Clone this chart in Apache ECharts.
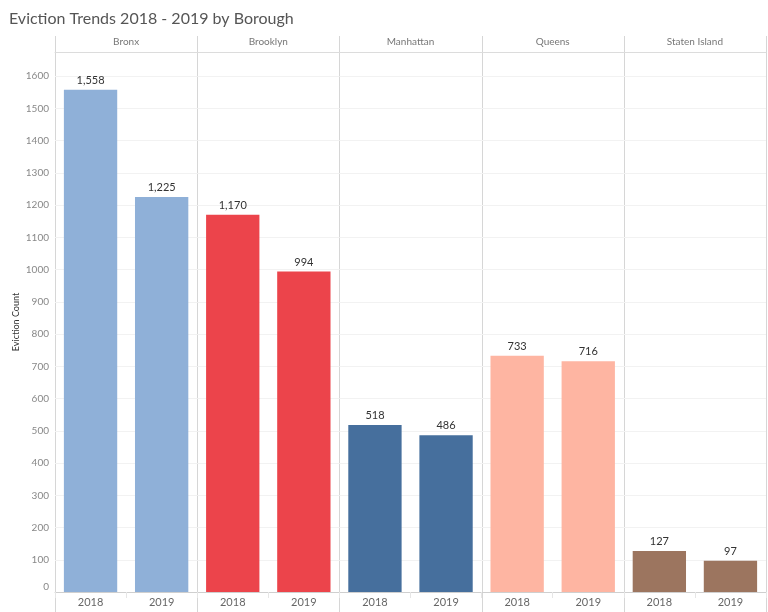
<!DOCTYPE html>
<html>
<head>
<meta charset="utf-8">
<script src="https://cdn.jsdelivr.net/npm/echarts@6/dist/echarts.min.js"></script>
<style>
  html, body { margin: 0; padding: 0; background: #fff; }
  #chart { width: 768px; height: 612px; }
</style>
</head>
<body>
<div id="chart"></div>
<script>
const boroughs = ['Bronx', 'Brooklyn', 'Manhattan', 'Queens', 'Staten Island']
const years = ['2018', '2019']
const evictions2018 = [1558, 1170, 518, 733, 127]
const evictions2019 = [1225, 994, 486, 716, 97]
const boroughColors = ['#8fb0d8', '#ec444b', '#466f9d', '#feb5a2', '#9c755f']

const FONT = 'Lato, "Noto Sans", sans-serif'
const panelLeft = 55
const panelW = 142.2
const gridTop = 52
const gridBottom = 20
const yMax = 1675

const chart = echarts.init(document.getElementById('chart'))

const grids = []
const xAxes = []
const yAxes = []
const series = []
const graphics = []

boroughs.forEach((name, i) => {
  grids.push({
    left: panelLeft + i * panelW,
    width: panelW,
    top: gridTop,
    bottom: gridBottom,
    containLabel: false
  })
  // 下方年份
  xAxes.push({
    type: 'category',
    gridIndex: i,
    data: years,
    position: 'bottom',
    axisLine: { show: true, lineStyle: { color: '#cfcfcf' } },
    axisTick: { show: true, length: 6, lineStyle: { color: '#e6e6e6' } },
    axisLabel: { color: '#666', fontSize: 11, fontFamily: FONT, margin: 5 }
  })
  // 顶部行政区标题
  xAxes.push({
    type: 'category',
    gridIndex: i,
    data: [name],
    position: 'top',
    axisLine: { show: true, lineStyle: { color: '#dcdcdc' } },
    axisTick: { show: false },
    axisLabel: { color: '#777', fontSize: 10, fontFamily: FONT, margin: 5 }
  })
  yAxes.push({
    type: 'value',
    gridIndex: i,
    min: 0,
    max: yMax,
    interval: 100,
    name: i === 0 ? 'Eviction Count' : '',
    nameLocation: 'middle',
    nameGap: 34,
    nameTextStyle: { color: '#333', fontSize: 9, fontFamily: FONT },
    axisLine: { show: false },
    axisTick: { show: false },
    axisLabel: {
      show: i === 0,
      color: '#888',
      fontSize: 10,
      fontFamily: FONT,
      margin: 6,
      showMaxLabel: false,
      verticalAlignMinLabel: 'bottom',
      formatter: v => String(v) // 不加千位分隔符
    },
    splitLine: { show: true, lineStyle: { color: '#f2f2f2' } }
  })
  series.push({
    type: 'bar',
    xAxisIndex: i * 2,
    yAxisIndex: i,
    data: [evictions2018[i], evictions2019[i]],
    barWidth: '75%',
    itemStyle: { color: boroughColors[i] },
    label: {
      show: true,
      position: 'top',
      distance: 4,
      color: '#333',
      fontSize: 11,
      fontFamily: FONT,
      formatter: p => p.value.toLocaleString('en-US')
    }
  })
})

// 分面竖线
for (let i = 0; i <= boroughs.length; i++) {
  const x = Math.round(panelLeft + i * panelW) + 0.5
  graphics.push({
    type: 'line',
    shape: { x1: x, y1: 36, x2: x, y2: 612 },
    style: { stroke: '#d6d6d6', lineWidth: 1 },
    silent: true
  })
}

const option = {
  animation: false,
  title: {
    text: 'Eviction Trends 2018 - 2019 by Borough',
    left: 4,
    top: 6,
    textStyle: { color: '#555', fontSize: 16, fontWeight: 'normal', fontFamily: FONT }
  },
  grid: grids,
  xAxis: xAxes,
  yAxis: yAxes,
  series: series,
  graphic: graphics
}

option && chart.setOption(option)
</script>
</body>
</html>
